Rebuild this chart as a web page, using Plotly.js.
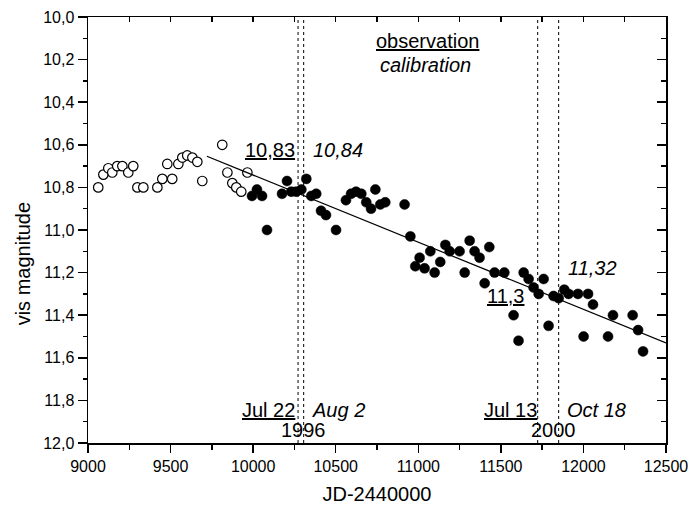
<!DOCTYPE html>
<html>
<head>
<meta charset="utf-8">
<script src="https://cdn.plot.ly/plotly-3.0.1.min.js"></script>
<style>
  html, body { margin: 0; padding: 0; background: #fff; }
  #chart { width: 691px; height: 508px; }
</style>
</head>
<body>
<div id="chart"></div>
<script>
// Calibration estimates (open circles)
const calibJD  = [9062, 9093, 9123, 9147, 9177, 9208, 9244, 9274, 9299, 9335,
                  9420, 9450, 9480, 9510, 9547, 9571, 9601, 9632, 9662, 9692,
                  9813, 9844, 9874, 9898, 9928, 9965];
const calibMag = [10.80, 10.74, 10.71, 10.73, 10.70, 10.70, 10.73, 10.70, 10.80, 10.80,
                  10.80, 10.76, 10.69, 10.76, 10.69, 10.66, 10.65, 10.66, 10.68, 10.77,
                  10.60, 10.73, 10.78, 10.80, 10.82, 10.73];

// Observations (filled circles)
const obsJD  = [9993, 10023, 10054, 10084, 10175, 10205, 10231, 10261, 10292, 10322,
                10352, 10382, 10411, 10441, 10502, 10562, 10593, 10623, 10655, 10685,
                10714, 10740, 10770, 10800, 10917, 10952, 10982, 11008, 11038, 11073,
                11099, 11133, 11164, 11190, 11250, 11281, 11311, 11341, 11371, 11402,
                11430, 11462, 11521, 11577, 11607, 11638, 11668, 11698, 11729, 11759,
                11789, 11819, 11850, 11884, 11910, 11967, 12001, 12028, 12058, 12149,
                12179, 12298, 12331, 12361];
const obsMag = [10.84, 10.81, 10.84, 11.00, 10.83, 10.77, 10.82, 10.82, 10.81, 10.76,
                10.84, 10.83, 10.91, 10.93, 11.00, 10.86, 10.83, 10.82, 10.83, 10.87,
                10.90, 10.81, 10.88, 10.87, 10.88, 11.03, 11.17, 11.13, 11.18, 11.10,
                11.20, 11.15, 11.07, 11.10, 11.10, 11.20, 11.05, 11.10, 11.13, 11.25,
                11.08, 11.20, 11.20, 11.40, 11.52, 11.20, 11.23, 11.27, 11.30, 11.23,
                11.45, 11.31, 11.32, 11.28, 11.30, 11.30, 11.50, 11.30, 11.35, 11.50,
                11.40, 11.40, 11.47, 11.57];

// Linear trend
const fitJD  = [9720, 12500];
const fitMag = [10.654, 11.53];

// Event epochs (dotted verticals)
const eventJD = [10272, 10306, 11723, 11850];

const FONT = '"Liberation Sans", Arial, Helvetica, sans-serif';

// Text labels: [text, JD, mag]
const labels = [
  ['<u>observation</u>', 11055, 10.111],
  ['<i>calibration</i>',  11043, 10.226],
  ['<u>10,83</u>',        10104, 10.625],
  ['<i>10,84</i>',        10516, 10.625],
  ['<u>11,3</u>',         11527, 11.311],
  ['<i>11,32</i>',        12057, 11.178],
  ['<u>Jul 22</u>',       10092, 11.845],
  ['<i>Aug 2</i>',        10516, 11.845],
  ['1996',                10307, 11.941],
  ['<u>Jul 13</u>',       11557, 11.845],
  ['<i>Oct 18</i>',       12078, 11.845],
  ['2000',                11816, 11.941]
];

const traces = [
  {
    x: fitJD, y: fitMag, xaxis: 'x2', yaxis: 'y2',
    mode: 'lines', line: {color: '#000', width: 1.2},
    hoverinfo: 'skip', showlegend: false
  },
  {
    x: calibJD, y: calibMag, mode: 'markers',
    marker: {symbol: 'circle', size: 9.5, color: '#fff', line: {color: '#000', width: 1.2}},
    showlegend: false
  },
  {
    x: obsJD, y: obsMag, mode: 'markers',
    marker: {symbol: 'circle', size: 10, color: '#000', line: {color: '#000', width: 0.5}},
    showlegend: false
  }
];

const shapes = eventJD.map(jd => ({
  type: 'line', xref: 'x', yref: 'paper', x0: jd, x1: jd, y0: 0, y1: 1,
  line: {color: '#000', width: 1, dash: 'dot'}, layer: 'below'
}));

const annotations = labels.map(([t, x, y]) => ({
  text: t, x: x, y: y, xref: 'x', yref: 'y',
  showarrow: false, xanchor: 'center', yanchor: 'middle',
  font: {family: FONT, size: 20, color: '#000'}
}));

// Y-axis title, placed beside the tick labels
annotations.push({
  text: 'vis magnitude', textangle: -90,
  xref: 'paper', yref: 'paper', x: -0.112, y: 0.42,
  xanchor: 'center', yanchor: 'middle', showarrow: false,
  font: {family: FONT, size: 20, color: '#000'}
});

const layout = {
  width: 691, height: 508,
  margin: {l: 88, r: 25, t: 17, b: 65, pad: 0},
  paper_bgcolor: '#fff', plot_bgcolor: '#fff',
  separators: ',.',
  font: {family: FONT, color: '#000'},
  showlegend: false,
  xaxis: {
    range: [9000, 12500], tick0: 9000, dtick: 500, tickformat: 'd',
    ticks: 'outside', ticklen: 8, tickwidth: 1.5, tickcolor: '#000',
    minor: {dtick: 250, ticks: 'outside', ticklen: 5, tickwidth: 1.5, tickcolor: '#000', showgrid: false},
    showline: true, linewidth: 1.5, linecolor: '#000',
    showgrid: false, zeroline: false,
    tickfont: {family: FONT, size: 16, color: '#000'},
    title: {text: 'JD-2440000', font: {family: FONT, size: 20, color: '#000'}, standoff: 13}
  },
  yaxis: {
    range: [12.0, 10.0], tick0: 10, dtick: 0.2, tickformat: '.1f',
    ticks: 'outside', ticklen: 9, tickwidth: 1.5, tickcolor: '#000',
    minor: {dtick: 0.1, ticks: 'outside', ticklen: 4, tickwidth: 1.5, tickcolor: '#000', showgrid: false},
    showline: true, linewidth: 1.5, linecolor: '#000',
    showgrid: false, zeroline: false,
    tickfont: {family: FONT, size: 16, color: '#000'}
  },
  xaxis2: {
    overlaying: 'x', side: 'top', anchor: 'y2',
    range: [9000, 12500], tick0: 9000, dtick: 250,
    ticks: 'inside', ticklen: 5, tickwidth: 1.5, tickcolor: '#000',
    showticklabels: false, showline: true, linewidth: 1.5, linecolor: '#000',
    showgrid: false, zeroline: false
  },
  yaxis2: {
    overlaying: 'y', side: 'right', anchor: 'x2',
    range: [12.0, 10.0], tick0: 10, dtick: 0.2,
    ticks: 'inside', ticklen: 9, tickwidth: 1.5, tickcolor: '#000',
    minor: {dtick: 0.1, ticks: 'inside', ticklen: 5, tickwidth: 1.5, tickcolor: '#000', showgrid: false},
    showticklabels: false, showline: true, linewidth: 1.5, linecolor: '#000',
    showgrid: false, zeroline: false
  },
  shapes: shapes,
  annotations: annotations
};

Plotly.newPlot('chart', traces, layout, {staticPlot: true, displayModeBar: false});
</script>
</body>
</html>
